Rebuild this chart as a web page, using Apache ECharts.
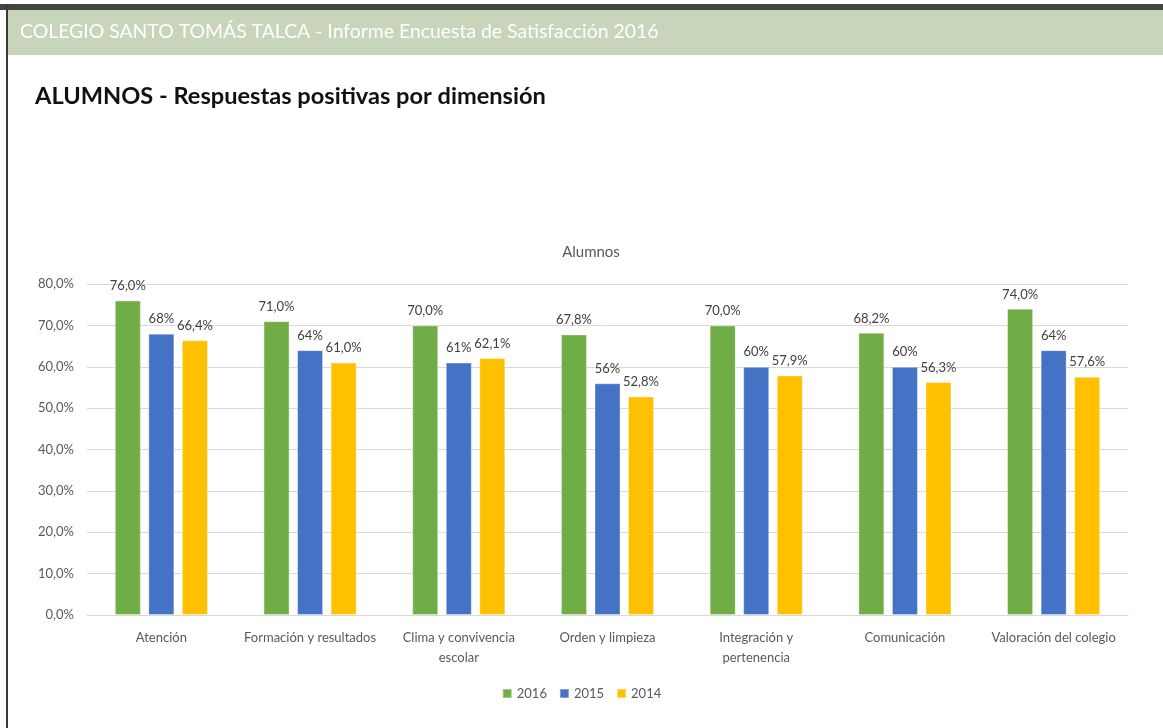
<!DOCTYPE html>
<html>
<head>
<meta charset="utf-8">
<script src="https://cdn.jsdelivr.net/npm/echarts@6/dist/echarts.min.js"></script>
<style>
  html, body { margin: 0; padding: 0; background: #fff; }
  #chart { width: 1163px; height: 728px; }
</style>
</head>
<body>
<div id="chart"></div>
<script>
(function () {
  'use strict';

  var CATEGORIES = [
    'Atención',
    'Formación y resultados',
    'Clima y convivencia\nescolar',
    'Orden y limpieza',
    'Integración y\npertenencia',
    'Comunicación',
    'Valoración del colegio'
  ];
  var SERIES_NAMES = ['2016', '2015', '2014'];
  var VALUES_2016 = [76.0, 71.0, 70.0, 67.8, 70.0, 68.2, 74.0];
  var VALUES_2015 = [68, 64, 61, 56, 60, 60, 64];
  var VALUES_2014 = [66.4, 61.0, 62.1, 52.8, 57.9, 56.3, 57.6];
  var Y_TICKS = { min: 0, max: 80, interval: 10 };

  var COLORS = ['#70AD47', '#4472C4', '#FFC000'];
  var FONT = 'Lato, "Open Sans", sans-serif';

  function comma(v, digits) { return Number(v).toFixed(digits).replace('.', ',') + '%'; }

  function barSeries(name, data, color, digits) {
    return {
      type: 'bar',
      name: name,
      data: data,
      barWidth: 26,
      barGap: '29%',
      itemStyle: { color: color, borderColor: 'rgba(255,255,255,0.35)', borderWidth: 1 },
      label: {
        show: true,
        position: 'top',
        distance: 8,
        color: '#404040',
        fontFamily: FONT,
        fontSize: 13,
        formatter: function (p) { return comma(p.value, digits); }
      },
      emphasis: { disabled: true }
    };
  }

  var chart = echarts.init(document.getElementById('chart'), null, { renderer: 'canvas' });
  chart.setOption({
    backgroundColor: '#ffffff',
    animation: false,
    color: COLORS,
    graphic: [
      { type: 'rect', shape: { x: 0, y: 4, width: 1163, height: 6 }, style: { fill: '#444444' } },
      { type: 'rect', shape: { x: 8, y: 10, width: 1155, height: 45 }, style: { fill: '#C9D5BA' } },
      { type: 'rect', shape: { x: 6, y: 4, width: 2, height: 724 }, style: { fill: '#3a3a3a' } },
      {
        type: 'text', left: 20, top: 22,
        style: {
          text: 'COLEGIO SANTO TOMÁS TALCA - Informe Encuesta de Satisfacción 2016',
          fill: '#ffffff', font: '19.4px ' + FONT
        }
      },
      {
        type: 'text', left: 35, top: 84,
        style: {
          text: 'ALUMNOS - Respuestas positivas por dimensión',
          fill: '#111111', font: 'bold 23.6px ' + FONT
        }
      }
    ],
    title: {
      text: 'Alumnos',
      left: 586,
      top: 240,
      textAlign: 'center',
      textStyle: { color: '#595959', fontFamily: FONT, fontSize: 15, fontWeight: 'normal' }
    },
    legend: {
      data: SERIES_NAMES,
      left: 'center',
      top: 682,
      itemWidth: 9,
      itemHeight: 9,
      itemGap: 12,
      icon: 'rect',
      textStyle: { color: '#595959', fontFamily: FONT, fontSize: 13 }
    },
    grid: { left: 87, right: 35, top: 284, bottom: 113, containLabel: false },
    xAxis: {
      type: 'category',
      data: CATEGORIES,
      axisLine: { lineStyle: { color: '#D9D9D9', width: 1 } },
      axisTick: { show: false },
      axisLabel: {
        color: '#595959', fontFamily: FONT, fontSize: 13, margin: 13,
        lineHeight: 20, interval: 0
      }
    },
    yAxis: {
      type: 'value',
      min: Y_TICKS.min,
      max: Y_TICKS.max,
      interval: Y_TICKS.interval,
      axisLine: { show: false },
      axisTick: { show: false },
      splitLine: { lineStyle: { color: '#D9D9D9' } },
      axisLabel: {
        color: '#595959', fontFamily: FONT, fontSize: 13, margin: 13,
        formatter: function (v) { return comma(v, 1); }
      }
    },
    series: [
      barSeries(SERIES_NAMES[0], VALUES_2016, COLORS[0], 1),
      barSeries(SERIES_NAMES[1], VALUES_2015, COLORS[1], 0),
      barSeries(SERIES_NAMES[2], VALUES_2014, COLORS[2], 1)
    ]
  });
})();
</script>
</body>
</html>
